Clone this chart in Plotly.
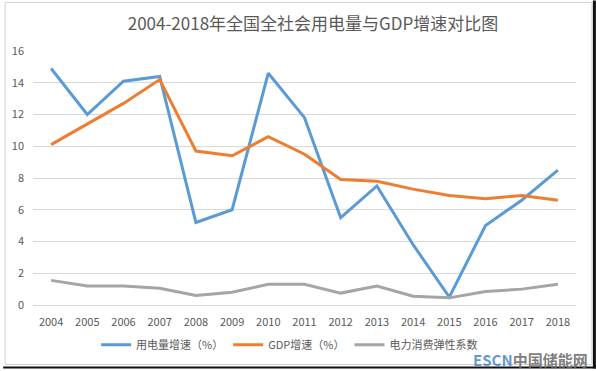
import plotly.graph_objects as go

years = [str(y) for y in range(2004, 2019)]
elec_growth = [14.9, 12.0, 14.1, 14.4, 5.2, 6.0, 14.6, 11.8, 5.5, 7.5, 3.8, 0.5, 5.0, 6.6, 8.5]
gdp_growth = [10.1, 11.4, 12.7, 14.2, 9.7, 9.4, 10.6, 9.5, 7.9, 7.8, 7.3, 6.9, 6.7, 6.9, 6.6]
elasticity = [1.55, 1.2, 1.2, 1.05, 0.6, 0.8, 1.3, 1.3, 0.75, 1.2, 0.55, 0.45, 0.85, 1.0, 1.3]
y_ticks = list(range(0, 17, 2))

W, H = 596, 371
L, R, T, B = 30, 576, 51, 307

def px(x):
    return (x - L) / (R - L)

def py(y):
    return (B - y) / (B - T)

fig = go.Figure()
fig.add_trace(go.Scatter(x=years, y=elec_growth, mode="lines", name="用电量增速（%）",
                         line=dict(color="#5b9bd5", width=3)))
fig.add_trace(go.Scatter(x=years, y=gdp_growth, mode="lines", name="GDP增速（%）",
                         line=dict(color="#ed7d31", width=3)))
fig.add_trace(go.Scatter(x=years, y=elasticity, mode="lines", name="电力消费弹性系数",
                         line=dict(color="#a5a5a5", width=3)))

font_family = "Noto Sans CJK SC, Open Sans, sans-serif"

fig.update_layout(
    width=W, height=H,
    margin=dict(l=L, r=W - R, t=T, b=H - B),
    paper_bgcolor="white", plot_bgcolor="white",
    font=dict(family=font_family, color="#595959", size=11),
    title=dict(text="2004-2018年全国全社会用电量与GDP增速对比图",
               x=313 / W, xref="container", xanchor="center",
               y=1 - 24 / H, yanchor="middle",
               font=dict(size=17, color="#595959", family=font_family)),
    xaxis=dict(type="category", range=[-0.5, 14.5], showgrid=False,
               showline=True, linecolor="#d9d9d9", linewidth=1,
               ticks="", tickfont=dict(size=11, color="#595959"), ticklabelstandoff=7),
    yaxis=dict(range=[0, 16], tickvals=y_ticks, showgrid=True, gridcolor="#d9d9d9",
               gridwidth=1, zeroline=False, showline=False, ticks="",
               tickfont=dict(size=11, color="#595959"), ticklabelstandoff=8),
    legend=dict(orientation="h", x=px(288), xanchor="center", y=py(347), yanchor="middle",
                font=dict(size=11, color="#595959"), bgcolor="rgba(0,0,0,0)",
                itemwidth=30, tracegroupgap=0),
    showlegend=True,
)

# watermark
fig.add_annotation(
    text="<b><span style='color:rgba(62,130,200,0.9)'>ESCN</span>中国储能网</b>",
    x=px(590), y=py(362), xref="paper", yref="paper",
    xanchor="right", yanchor="middle", showarrow=False,
    font=dict(size=15, color="rgba(110,110,110,0.9)", family=font_family))

# frame
fig.add_shape(type="rect", xref="paper", yref="paper",
              x0=px(2), x1=px(592), y0=py(367), y1=py(2),
              line=dict(color="#d0d0d0", width=1), layer="below")
fig.add_shape(type="line", xref="paper", yref="paper",
              x0=px(594.5), x1=px(594.5), y0=py(371), y1=py(0),
              line=dict(color="#111111", width=3))
fig.add_shape(type="line", xref="paper", yref="paper",
              x0=px(0), x1=px(596), y0=py(370), y1=py(370),
              line=dict(color="#111111", width=2))

fig.write_html("out.html", config={"displayModeBar": False},
               post_script="document.body.style.margin='0';document.body.style.overflow='hidden';")
